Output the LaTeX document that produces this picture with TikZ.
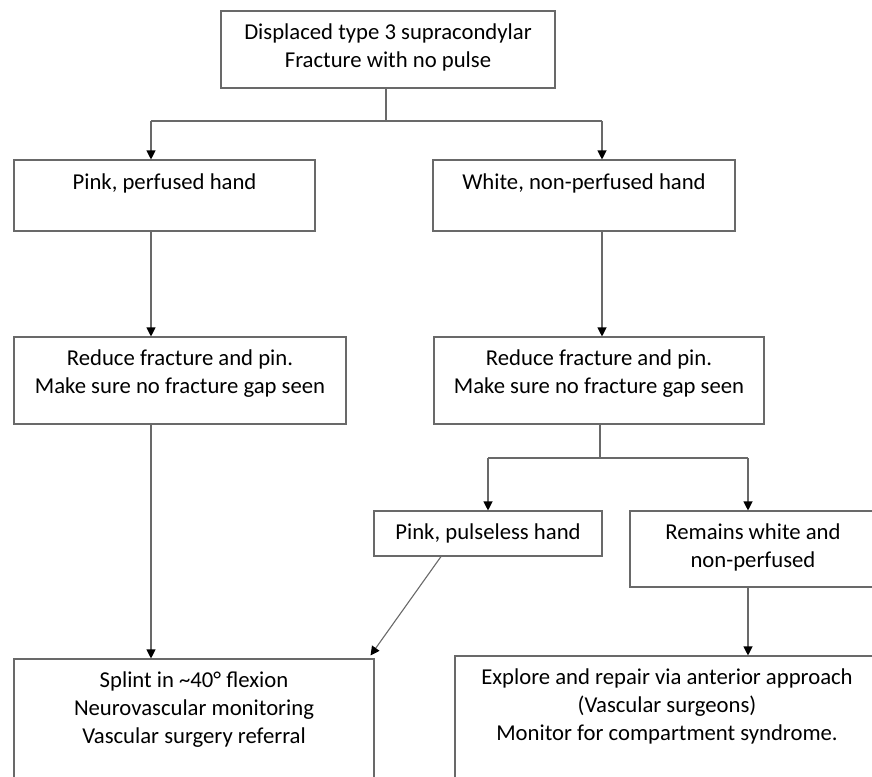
\documentclass[tikz,border=0pt]{standalone}
\usepackage{fontspec}
\setmainfont{Carlito}
\usetikzlibrary{arrows.meta}
\definecolor{linegray}{RGB}{105,105,105}
\begin{document}
\begin{tikzpicture}[x=1pt,y=-1pt,
  box/.style={draw=linegray, line width=1.1pt, rectangle, inner sep=0pt},
  txt/.style={anchor=north, inner sep=0pt, align=center, font=\fontsize{22.7}{28}\selectfont},
  conn/.style={draw=linegray, line width=1.1pt},
  arr/.style={conn, -{Triangle[width=9pt,length=9pt,color=black]}}]
\useasboundingbox (0,0) rectangle (872,776);
\clip (0,0) rectangle (872,776);
% boxes
\node[box, minimum width=334pt, minimum height=77pt] (top) at (388,49.5) {};
\node[box, minimum width=301pt, minimum height=71pt] (pink) at (164.5,195.5) {};
\node[box, minimum width=302pt, minimum height=71pt] (white) at (584,195.5) {};
\node[box, minimum width=332pt, minimum height=87pt] (red1) at (180,380.5) {};
\node[box, minimum width=330pt, minimum height=87pt] (red2) at (599,380.5) {};
\node[box, minimum width=228pt, minimum height=45pt] (pulse) at (488,533.5) {};
\node[box, minimum width=246pt, minimum height=76pt] (remain) at (753,549) {};
\node[box, minimum width=360pt, minimum height=131pt] (splint) at (194,724.5) {};
\node[box, minimum width=424pt, minimum height=134pt] (explore) at (667,723) {};
% texts
\node[txt] (topt) at ([yshift=-8.9pt]top.north) {\strut Displaced type 3 supracondylar\\Fracture with no pulse};
\node[txt] (pinkt) at ([yshift=-10pt]pink.north) {\strut Pink, perfused hand};
\node[txt] (whitet) at ([yshift=-10pt]white.north) {\strut White, non-perfused hand};
\node[txt] (red1t) at ([yshift=-8.9pt]red1.north) {\strut Reduce fracture and pin.\\Make sure no fracture gap seen};
\node[txt] (red2t) at ([yshift=-8.9pt]red2.north) {\strut Reduce fracture and pin.\\Make sure no fracture gap seen};
\node[txt] (pulset) at ([yshift=-8.9pt]pulse.north) {\strut Pink, pulseless hand};
\node[txt] (remaint) at ([yshift=-8.9pt]remain.north) {\strut Remains white and\\non-perfused};
\node[txt] (splintt) at ([yshift=-9.5pt]splint.north) {\strut Splint in \textasciitilde 40\textdegree{} flexion\\Neurovascular monitoring\\Vascular surgery referral};
\node[txt] (exploret) at ([yshift=-8.9pt]explore.north) {\strut Explore and repair via anterior approach\\(Vascular surgeons)\\Monitor for compartment syndrome.};
% connector coordinates
\coordinate (xL) at (151,0);
\coordinate (xR) at (602,0);
\coordinate (xR2) at (748,0);
\coordinate (d1) at (441,0);
\coordinate (j1) at (386,121);
\coordinate (j2) at (600,458);
% connectors
\draw[conn] (top.south -| j1) -- (j1);
\draw[conn] (j1 -| xL) -- (j1 -| xR);
\draw[arr] (j1 -| xL) -- (xL |- pink.north);
\draw[arr] (j1 -| xR) -- (xR |- white.north);
\draw[arr] (xL |- pink.south) -- (xL |- red1.north);
\draw[arr] (xR |- white.south) -- (xR |- red2.north);
\draw[conn] (red2.south -| j2) -- (j2);
\draw[conn] (j2 -| pulse.north) -- (j2 -| xR2);
\draw[arr] (j2 -| pulse.north) -- (pulse.north);
\draw[arr] (j2 -| xR2) -- (xR2 |- remain.north);
\draw[arr] (xR2 |- remain.south) -- (xR2 |- explore.north);
\draw[arr] (xL |- red1.south) -- (xL |- splint.north);
\draw[arr] (d1 |- pulse.south) -- ([shift={(-4pt,3pt)}]splint.north east);
\end{tikzpicture}
\end{document}
